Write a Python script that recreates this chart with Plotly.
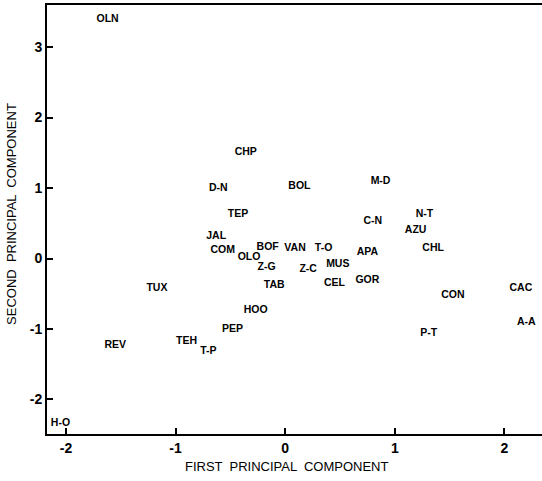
import plotly.graph_objects as go

labels = ["OLN", "CHP", "D-N", "BOL", "M-D", "TEP", "C-N", "N-T", "AZU", "JAL",
          "CHL", "BOF", "VAN", "T-O", "COM", "OLO", "APA", "Z-G", "MUS", "Z-C",
          "TAB", "CEL", "GOR", "TUX", "CON", "CAC", "HOO", "PEP", "A-A", "P-T",
          "TEH", "REV", "T-P", "H-O"]
first_pc = [-1.62, -0.36, -0.61, 0.13, 0.87, -0.43, 0.80, 1.27, 1.19, -0.63,
            1.35, -0.16, 0.09, 0.35, -0.57, -0.33, 0.75, -0.17, 0.48, 0.21,
            -0.10, 0.45, 0.75, -1.17, 1.53, 2.15, -0.27, -0.48, 2.20, 1.31,
            -0.90, -1.55, -0.70, -2.05]
second_pc = [3.39, 1.51, 1.00, 1.03, 1.10, 0.62, 0.52, 0.62, 0.40, 0.31,
             0.15, 0.16, 0.15, 0.14, 0.11, 0.02, 0.08, -0.12, -0.08, -0.15,
             -0.38, -0.35, -0.31, -0.42, -0.53, -0.42, -0.73, -1.00, -0.90, -1.06,
             -1.17, -1.24, -1.32, -2.34]

x_ticks = [-2, -1, 0, 1, 2]
x_tick_text = ["-2", "-1", "0", "1", "2"]
y_ticks = [-2, -1, 0, 1, 2, 3]
y_tick_text = ["-2", "-1", "0", "1", "2", "3"]

FONT = "Liberation Sans"

fig = go.Figure()
fig.add_trace(go.Scatter(
    x=first_pc, y=second_pc, mode="text", text=labels,
    textposition="middle center",
    textfont=dict(family=FONT, size=10.5, color="black", weight="bold"),
    hoverinfo="skip", showlegend=False,
))

fig.update_layout(
    width=542, height=481,
    margin=dict(l=47, r=0, t=5, b=47),
    plot_bgcolor="white", paper_bgcolor="white",
    font=dict(family=FONT, color="black"),
    xaxis=dict(
        range=[-2.173, 2.343], tickvals=x_ticks, ticktext=x_tick_text,
        ticks="inside", ticklen=6, tickwidth=2, tickcolor="black",
        showline=True, linecolor="black", linewidth=2, mirror=True,
        showgrid=False, zeroline=False,
        tickfont=dict(family=FONT, size=14, color="black", weight="bold"),
    ),
    yaxis=dict(
        range=[-2.491, 3.598], tickvals=y_ticks, ticktext=y_tick_text,
        ticks="inside", ticklen=6, tickwidth=2, tickcolor="black",
        showline=True, linecolor="black", linewidth=2,
        showgrid=False, zeroline=False,
        tickfont=dict(family=FONT, size=14, color="black", weight="bold"),
    ),
    annotations=[
        dict(text="FIRST  PRINCIPAL  COMPONENT", xref="paper", yref="paper",
             x=0.485, y=-0.0746, xanchor="center", yanchor="middle",
             showarrow=False, font=dict(family=FONT, size=13, color="black")),
        dict(text="SECOND  PRINCIPAL  COMPONENT", xref="paper", yref="paper",
             x=-0.0707, y=0.513, xanchor="center", yanchor="middle",
             textangle=-90, showarrow=False,
             font=dict(family=FONT, size=13, color="black")),
    ],
)

fig.write_html("out.html")
